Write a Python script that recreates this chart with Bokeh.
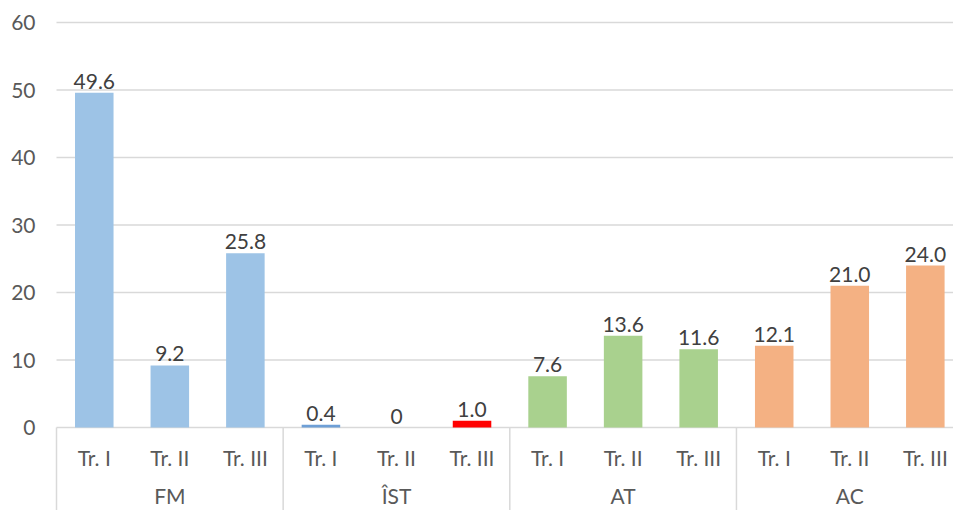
from bokeh.plotting import figure
from bokeh.models import Range1d, ColumnDataSource
from bokeh.core.properties import value
from bokeh.embed import file_html
from bokeh.resources import INLINE

groups = ["FM", "ÎST", "AT", "AC"]
treatments = ["Tr. I", "Tr. II", "Tr. III"]
values = [49.6, 9.2, 25.8, 0.4, 0, 1.0, 7.6, 13.6, 11.6, 12.1, 21.0, 24.0]
colors = ["#9DC3E6", "#9DC3E6", "#9DC3E6",
          "#6E9FD6", "#9DC3E6", "#FF0000",
          "#A9D18E", "#A9D18E", "#A9D18E",
          "#F4B183", "#F4B183", "#F4B183"]
yticks = [0, 10, 20, 30, 40, 50, 60]

FONT = value("Lato")
W, H = 953, 510
px_x = 75.55
px_y = 6.75
x0_screen = 56
y0_screen = 427
FS = "21px"

p = figure(width=W, height=H, output_backend="svg", toolbar_location=None,
           x_range=Range1d(-x0_screen / px_x, (W - x0_screen) / px_x),
           y_range=Range1d(-(H - y0_screen) / px_y, y0_screen / px_y),
           min_border_left=0, min_border_right=0, min_border_top=0, min_border_bottom=0)
p.axis.visible = False
p.grid.visible = False
p.outline_line_color = None
p.background_fill_color = "white"
p.border_fill_color = "white"

n = len(values)
xs = [i + 0.5 for i in range(n)]

# gridlines (incl. axis line at 0)
p.segment(x0=[0] * len(yticks), x1=[n + 1] * len(yticks), y0=yticks, y1=yticks,
          line_color="#D9D9D9", line_width=1.5)

# bars
src = ColumnDataSource(dict(x=xs, top=values, color=colors,
                            label=["0" if v == 0 else f"{v:.1f}" for v in values]))
p.vbar(x="x", top="top", bottom=0, width=0.51, fill_color="color", line_color=None, source=src)

# value labels
p.text(x="x", y="top", text="label", source=src, text_align="center",
       text_baseline="bottom", y_offset=-4, text_font=FONT,
       text_font_size=FS, text_color="#404040")

# y tick labels
p.text(x=[-21 / px_x] * len(yticks), y=yticks, text=[str(t) for t in yticks],
       text_align="right", text_baseline="middle", text_font=FONT,
       text_font_size=FS, text_color="#595959")

# category separators
ng = len(groups)
sep_x = [i * len(treatments) for i in range(ng + 1)]
p.segment(x0=sep_x, x1=sep_x, y0=[0] * len(sep_x), y1=[-20] * len(sep_x),
          line_color="#D9D9D9", line_width=1.5)

# treatment labels
p.text(x=xs, y=[-30 / px_y] * n, text=treatments * ng, text_align="center",
       text_baseline="middle", text_font=FONT, text_font_size=FS,
       text_color="#595959")

# group labels
gx = [i * len(treatments) + len(treatments) / 2 for i in range(ng)]
p.text(x=gx, y=[-68 / px_y] * ng, text=groups, text_align="center",
       text_baseline="middle", text_font=FONT, text_font_size=FS,
       text_color="#595959")

open("out.html", "w").write(file_html(p, INLINE))
